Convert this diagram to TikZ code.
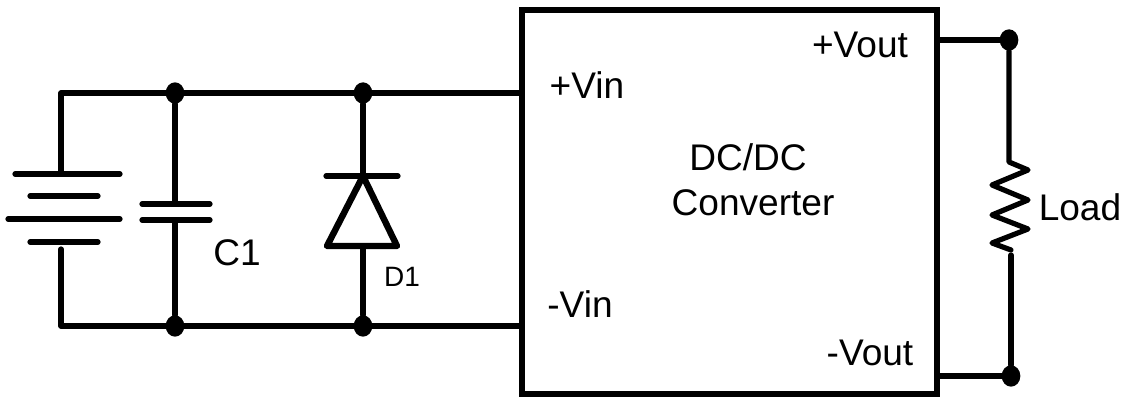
\documentclass[tikz,border=0pt]{standalone}
\usepackage{fontspec}
\setmainfont{Liberation Sans}
\usetikzlibrary{shapes.geometric}
\tikzset{
  wire/.style={line width=3.9pt,line cap=round,line join=round},
  joint/.style={ellipse,fill=black,inner sep=0pt,minimum width=14pt,minimum height=16pt},
  lbl/.style={inner sep=0pt,font=\fontsize{27.8}{30}\selectfont},
  lblsmall/.style={inner sep=0pt,font=\fontsize{21}{24}\selectfont}
}
\begin{document}
\begin{tikzpicture}[x=0.75pt,y=-0.75pt]
\useasboundingbox (0,0) rectangle (1122,398);
% converter
\draw[wire,line width=4.4pt,line join=miter] (522,10) rectangle (937,394);
\coordinate (INP) at (520,93);
\coordinate (INN) at (520,326);
\coordinate (OUTP) at (937,40);
\coordinate (OUTN) at (937,376);
\node[lbl] (VINP) at (587,85) {+Vin};
\node[lbl] (VINN) at (580,304) {-Vin};
\node[lbl] (VOUTP) at (860,45) {+Vout};
\node[lbl] (VOUTN) at (870,353) {-Vout};
\node[lbl] (CONV1) at (748,157) {DC/DC};
\node[lbl] (CONV2) at (753,203) {Converter};
% joints
\node[joint] (J1) at (175,93) {};
\node[joint] (J2) at (363,93) {};
\node[joint] (J3) at (175,326) {};
\node[joint] (J4) at (363,326) {};
\node[joint] (J5) at (1009,40) {};
\node[joint] (J6) at (1011,376) {};
% battery
\coordinate (BATP) at (61,174);
\coordinate (BATN) at (61,249);
\draw[wire] (15,174) -- (120,174);
\draw[wire] (30,196) -- (98,196);
\draw[wire] (8,219) -- (120,219);
\draw[wire] (30,242) -- (98,242);
\draw[wire] (BATP) -- (61,93) -- (INP);
\draw[wire] (BATN) -- (61,326) -- (INN);
% capacitor
\coordinate (CAPP) at (175,204);
\coordinate (CAPN) at (175,220);
\draw[wire] (142,204) -- (210,204);
\draw[wire] (142,220) -- (210,220);
\draw[wire] (J1) -- (CAPP);
\draw[wire] (CAPN) -- (J3);
\node[lbl] (C1) at (237,253) {C1};
% diode
\coordinate (DK) at (363,176);
\coordinate (DA) at (363,246);
\draw[wire] (326,176) -- (398,176);
\draw[wire,line width=4.8pt] (DK) -- (397,246) -- (327,246) -- cycle;
\draw[wire] (J2) -- (DK);
\draw[wire] (DA) -- (J4);
\node[lblsmall] (D1) at (402,277) {D1};
% load
\coordinate (RT) at (1009,162);
\coordinate (RB) at (1011,255);
\draw[wire] (OUTP) -- (J5);
\draw[wire] (J5) -- (RT) -- (1028,170) -- (992,185) -- (1028,200) -- (992,215) -- (1028,229) -- (992,243) -- (1011,250);
\draw[wire] (RB) -- (J6);
\draw[wire] (OUTN) -- (J6);
\node[lbl] (LOAD) at (1080,207) {Load};
\end{tikzpicture}
\end{document}
